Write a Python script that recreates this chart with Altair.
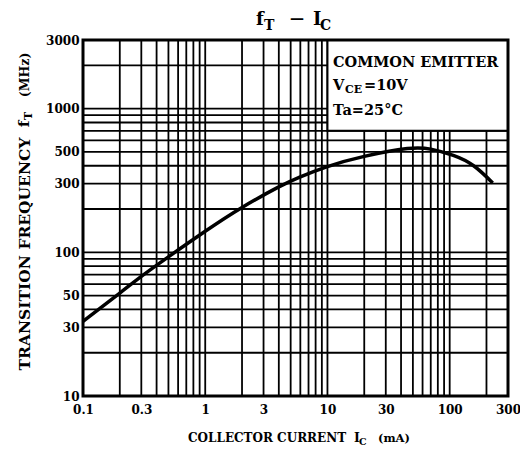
import altair as alt
import pandas as pd

# ---- data ----
ic_ma = [0.1, 0.2, 0.3, 0.5, 1, 2, 4, 6, 10, 20, 45, 70, 107, 157, 225]
ft_mhz = [33, 52, 68, 93, 140, 205, 285, 335, 395, 465, 527, 522, 472, 400, 304]

x_grid = [0.2, 0.3, 0.4, 0.5, 0.6, 0.7, 0.8, 0.9,
          1, 2, 3, 4, 5, 6, 7, 8, 9,
          10, 20, 30, 40, 50, 60, 70, 80, 90,
          100, 200]
y_grid = [20, 30, 40, 50, 60, 70, 80, 90,
          100, 200, 300, 400, 500, 600, 700, 800, 900,
          1000, 2000]
x_ticks = [0.1, 0.3, 1, 3, 10, 30, 100, 300]
y_ticks = [10, 30, 50, 100, 300, 500, 1000, 3000]
box_x = [10, 300]
box_y = [700, 3000]

W, H = 425, 356
FONT = "DejaVu Serif"

xs = alt.Scale(type="log", domain=[0.1, 300], nice=False)
ys = alt.Scale(type="log", domain=[10, 3000], nice=False)

xax = alt.Axis(values=x_ticks, format="~g", grid=False, ticks=False, domain=False,
               title=None, labelFont=FONT, labelFontWeight="bold", labelFontSize=12,
               labelColor="black", labelPadding=8, labelFlush=False, labelOverlap=False)
yax = alt.Axis(values=y_ticks, format="~g", grid=False, ticks=False, domain=False,
               title=None, labelFont=FONT, labelFontWeight="bold", labelFontSize=12,
               labelColor="black", labelPadding=4, labelFlush=False, labelOverlap=False)

curve_df = pd.DataFrame({"ic": ic_ma, "ft": ft_mhz})
xg_df = pd.DataFrame({"v": x_grid})
yg_df = pd.DataFrame({"v": y_grid})
box_df = pd.DataFrame({"x1": [box_x[0]], "x2": [box_x[1]], "y1": [box_y[0]], "y2": [box_y[1]]})
dummy = pd.DataFrame({"a": [0]})

vgrid = alt.Chart(xg_df).mark_rule(color="black", strokeWidth=1.8).encode(
    x=alt.X("v:Q", scale=xs, axis=xax))
hgrid = alt.Chart(yg_df).mark_rule(color="black", strokeWidth=1.8).encode(
    y=alt.Y("v:Q", scale=ys, axis=yax))

box = alt.Chart(box_df).mark_rect(fill="white", stroke="black", strokeWidth=2).encode(
    x=alt.X("x1:Q", scale=xs, axis=xax), x2="x2:Q",
    y=alt.Y("y1:Q", scale=ys, axis=yax), y2="y2:Q")

curve = alt.Chart(curve_df).mark_line(color="black", strokeWidth=3.5, interpolate="natural").encode(
    x=alt.X("ic:Q", scale=xs, axis=xax),
    y=alt.Y("ft:Q", scale=ys, axis=yax))

frame = alt.Chart(dummy).mark_rect(fill=None, stroke="black", strokeWidth=3).encode(
    x=alt.value(0), x2=alt.value(W), y=alt.value(0), y2=alt.value(H))


def txt(s, x, y, size=12, angle=0, align="left", baseline="alphabetic"):
    return alt.Chart(dummy).mark_text(
        text=s, font=FONT, fontWeight="bold", fontSize=size, color="black",
        align=align, baseline=baseline, angle=angle
    ).encode(x=alt.value(x), y=alt.value(y))


texts = [
    # title  f_T - I_C
    txt("f", 173, -15, 18),
    txt("T", 181, -10, 14),
    txt("\u2014", 207, -17, 14),
    txt("I", 230, -15, 18),
    txt("C", 237, -10, 14),
    # legend box
    txt("COMMON EMITTER", 250, 27, 14.5),
    txt("V", 250, 50, 14.5),
    txt("CE", 262, 53, 11),
    txt("=10V", 281, 50, 14.5),
    txt("Ta=25\u00b0C", 250, 75, 14.5),
    # x title
    txt("COLLECTOR CURRENT", 105, 402, 12),
    txt("I", 271, 402, 12.5),
    txt("C", 276, 405, 9.5),
    txt("(mA)", 295, 402, 11.5),
    # y title (rotated)
    txt("TRANSITION FREQUENCY", -58, 214, 15.5, angle=270, align="center", baseline="middle"),
    txt("f", -59, 84, 15.5, angle=270, align="center", baseline="middle"),
    txt("T", -54, 76, 11, angle=270, align="center", baseline="middle"),
    txt("(MHz)", -58, 35, 12.5, angle=270, align="center", baseline="middle"),
]

chart = alt.layer(vgrid, hgrid, box, curve, frame, *texts).properties(
    width=W, height=H,
    autosize=alt.AutoSizeParams(type="none"),
    padding={"left": 75, "top": 32, "right": 12, "bottom": 51},
).configure_view(stroke=None).configure(background="white")

chart.save("out.html", embed_options={"renderer": "svg", "actions": False})
